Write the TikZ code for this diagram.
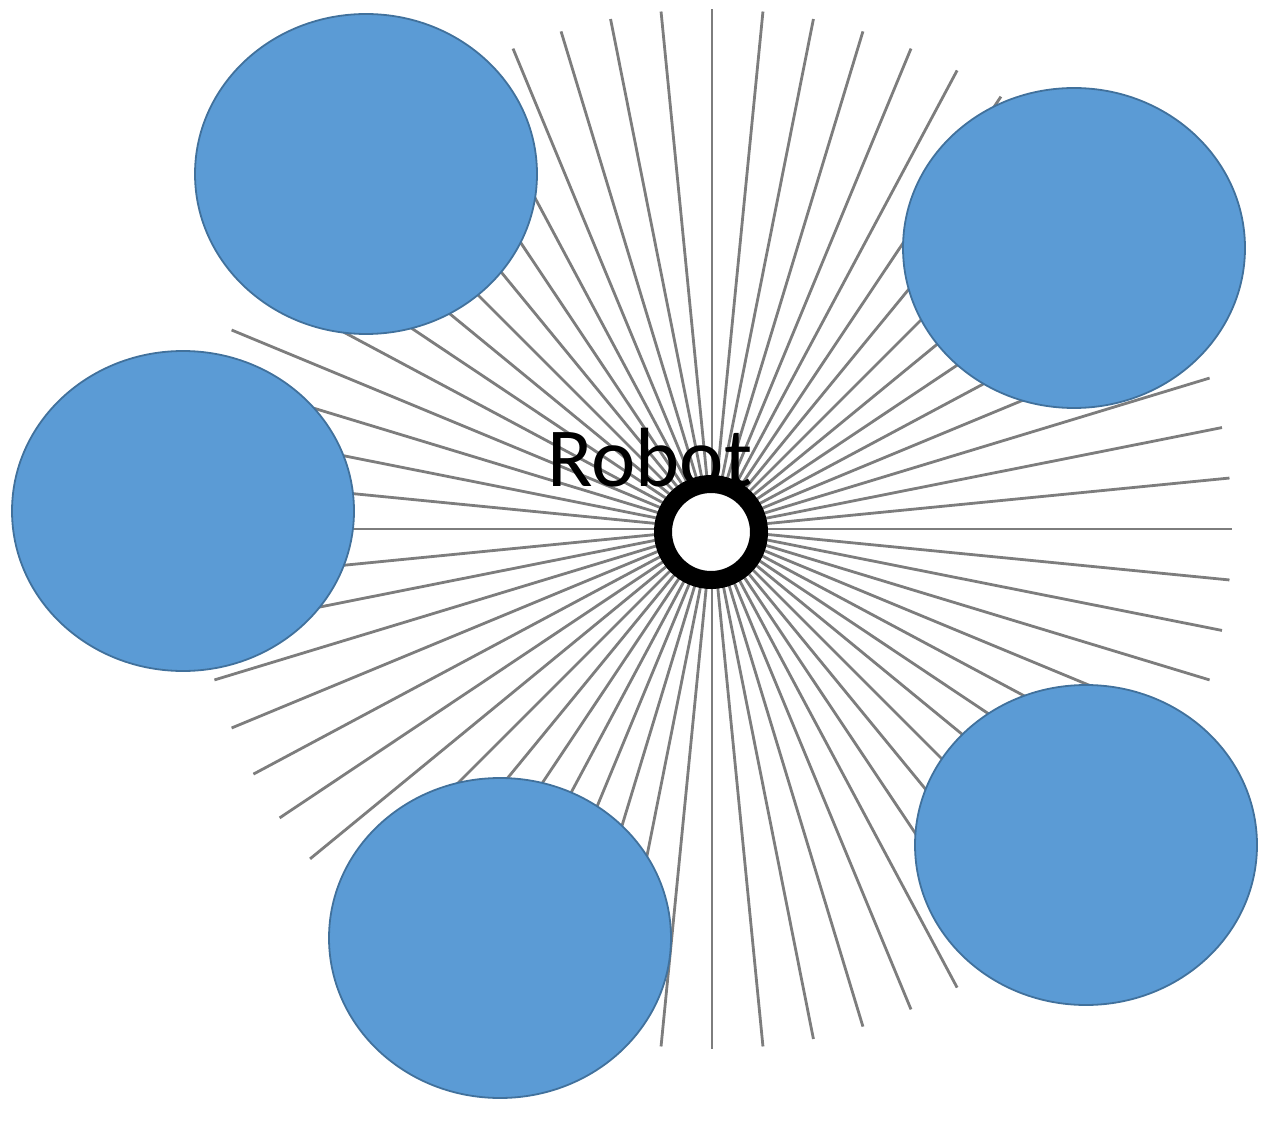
\documentclass[tikz,border=0pt]{standalone}
\usepackage{fontspec}
\setmainfont{Carlito}
\usetikzlibrary{shapes.geometric,calc}
\definecolor{blobfill}{RGB}{91,155,213}
\definecolor{blobline}{RGB}{65,113,156}
\definecolor{raygray}{RGB}{125,125,125}
\tikzset{
  blob/.style={ellipse, draw=blobline, line width=1.8pt, fill=blobfill,
               minimum width=342pt, minimum height=320pt, inner sep=0pt},
  ray/.style={draw=raygray, line width=2.8pt},
  robotring/.style={circle, draw=black, line width=18pt, fill=white,
                    minimum size=96pt, inner sep=0pt},
  robotlabel/.style={font=\fontsize{84}{90}\selectfont, text=black, inner sep=0pt}
}
\begin{document}
\begin{tikzpicture}[x=1pt,y=-1pt]
\useasboundingbox (0,0) rectangle (1269,1131);
\coordinate (rc) at (712,529);
\foreach \i in {0,...,63}{
  \coordinate (e\i) at ($(rc)+({\i*5.625}:520)$);
  \draw[ray] (rc) -- (e\i);
}
\node[robotlabel] (lbl) at (650,458) {Robot};
\node[robotring] (robot) at (711,532) {};
\node[blob] (b1) at (366,174) {};
\node[blob] (b2) at (1074,248) {};
\node[blob] (b3) at (183,511) {};
\node[blob] (b4) at (500,938) {};
\node[blob] (b5) at (1086,845) {};
\end{tikzpicture}
\end{document}
